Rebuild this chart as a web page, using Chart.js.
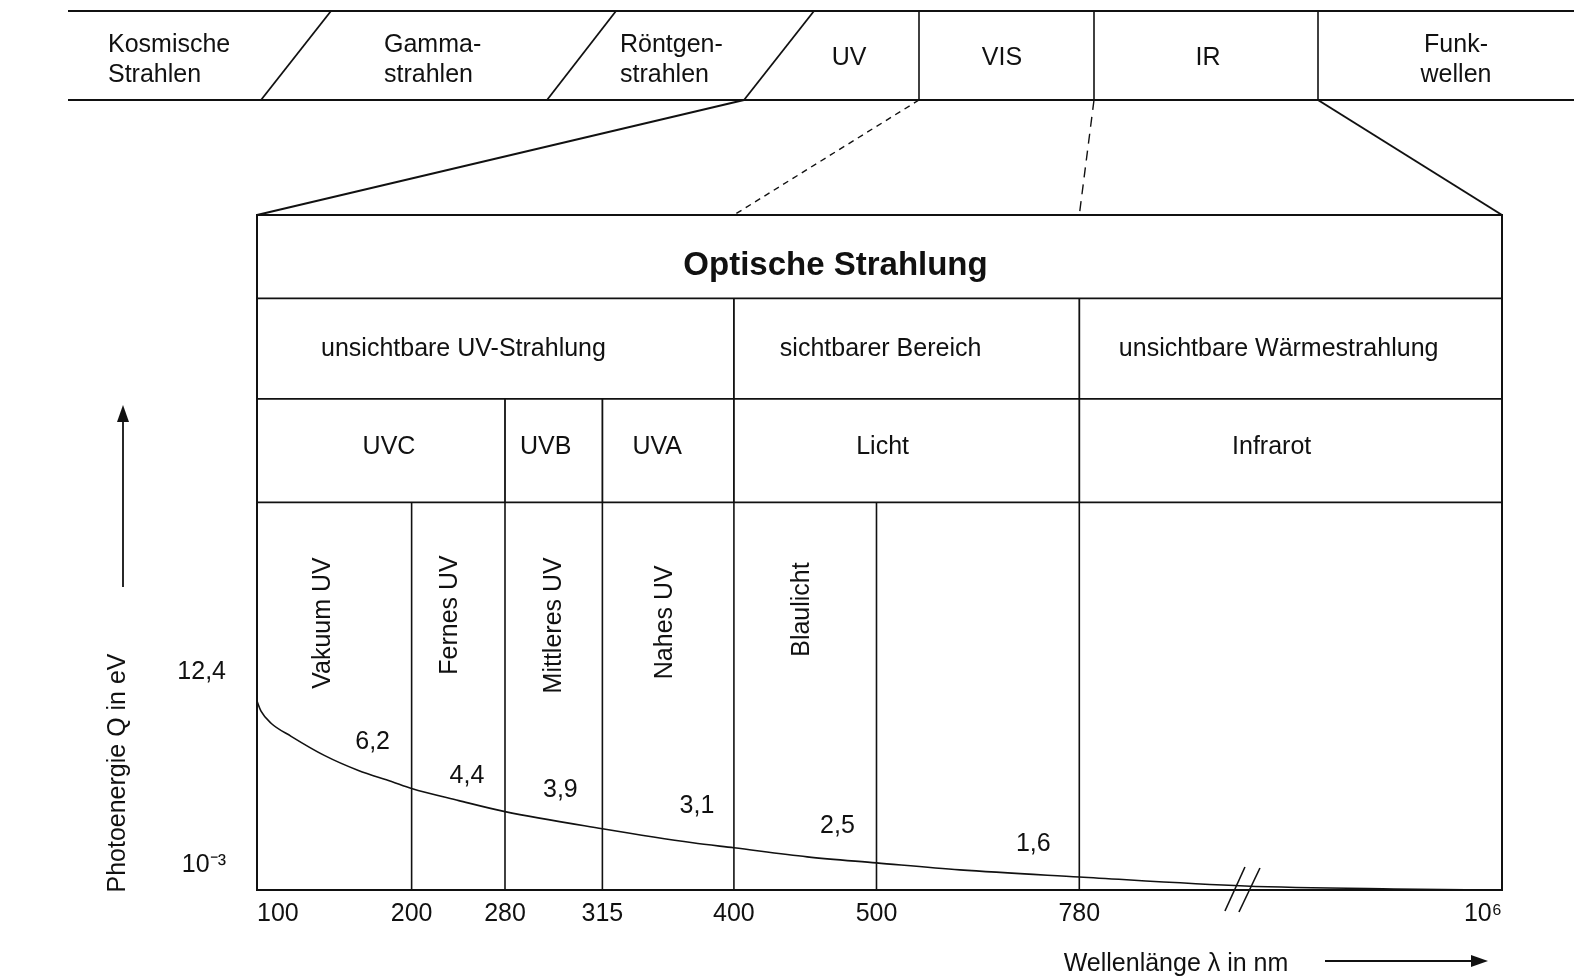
<!DOCTYPE html>
<html>
<head>
<meta charset="utf-8">
<script src="https://cdn.jsdelivr.net/npm/chart.js@4.4.1/dist/chart.umd.min.js"></script>
<style>
  html, body { margin: 0; padding: 0; background: #fff; }
  canvas { display: block; }
</style>
</head>
<body>
<canvas id="spectrum_chart"></canvas>
<script>
// schematic (non linear) wavelength axis, positions in axis units
const wavelengthLabels = ['100', '200', '280', '315', '400', '500', '780', '10⁶'];
const wavelengthPositions = [0, 154, 247, 344, 475, 617, 819, 1240];

// photon energy curve (axis units)
const curveX = [0, 4, 14, 34, 67, 101, 134, 154, 201, 247, 344, 434, 475, 548, 617, 700, 819, 984, 1132, 1240];
const curveY = [188, 178, 166, 153, 134, 119, 108, 101, 89, 78, 61, 47, 42, 33, 27, 20, 13, 4, 1, 0];

// energies written at the edges 200 ... 780 nm
const edgeEnergies = ['6,2', '4,4', '3,9', '3,1', '2,5', '1,6'];

const energyTickLabels = ['10⁻³', '12,4'];
const energyTickValues = [25, 217];

// boxes above the curve, bounds are indexes into wavelengthLabels
const rangeLabels = ['unsichtbare UV-Strahlung', 'sichtbarer Bereich', 'unsichtbare Wärmestrahlung'];
const rangeBounds = [[0, 4], [4, 6], [6, 7]];
const bandLabels = ['UVC', 'UVB', 'UVA', 'Licht', 'Infrarot'];
const bandBounds = [[0, 2], [2, 3], [3, 4], [4, 6], [6, 7]];
const subBandLabels = ['Vakuum UV', 'Fernes UV', 'Mittleres UV', 'Nahes UV', 'Blaulicht'];
const subBandBounds = [[0, 1], [1, 2], [2, 3], [3, 4], [4, 5]];

// electromagnetic spectrum strip at the top
const spectrumLabels = [
    ['Kosmische', 'Strahlen'], ['Gamma-', 'strahlen'], ['Röntgen-', 'strahlen'],
    ['UV'], ['VIS'], ['IR'], ['Funk-', 'wellen']
];

const FONT = '"Liberation Sans", Arial, sans-serif';
const INK = '#111';
const SIZE = 25;

function drawLine(ctx, x1, y1, x2, y2, width = 1.8, dash = []) {
    ctx.save();
    ctx.strokeStyle = INK;
    ctx.lineWidth = width;
    ctx.setLineDash(dash);
    ctx.beginPath();
    ctx.moveTo(x1, y1);
    ctx.lineTo(x2, y2);
    ctx.stroke();
    ctx.restore();
}

function drawText(ctx, text, x, y, size = SIZE, align = 'center', weight = '') {
    ctx.save();
    ctx.fillStyle = INK;
    ctx.font = `${weight} ${size}px ${FONT}`;
    ctx.textAlign = align;
    ctx.textBaseline = 'middle';
    ctx.fillText(text, x, y);
    ctx.restore();
}

function drawArrow(ctx, x1, y1, x2, y2) {
    const ang = Math.atan2(y2 - y1, x2 - x1);
    drawLine(ctx, x1, y1, x2 - 14 * Math.cos(ang), y2 - 14 * Math.sin(ang), 1.8);
    ctx.save();
    ctx.fillStyle = INK;
    ctx.translate(x2, y2);
    ctx.rotate(ang);
    ctx.beginPath();
    ctx.moveTo(0, 0);
    ctx.lineTo(-17, -6);
    ctx.lineTo(-17, 6);
    ctx.closePath();
    ctx.fill();
    ctx.restore();
}

// row edges of the table above the curve (y axis units)
const rowEdges = [386, 489, 589, 672];

// small hand tweaks so the labels sit where they sit in the original
const rangeShift = [-32, -26, -12];
const bandShift = [8, -8, -11, -24, -19];
const subShift = [[-11, 55], [-8, 53], [0, 55], [-3, 63], [-3, 60]];
const energyShift = [[-39, -48], [-38, -38], [-42, -41], [-37, -44], [-39, -39], [-46, -35]];

const diagramPlugin = {
    id: 'diagram',
    beforeDatasetsDraw(chart) {
        const { ctx, chartArea: a, scales: { x, y } } = chart;
        const px = i => x.getPixelForValue(wavelengthPositions[i]);
        const py = v => y.getPixelForValue(v);

        // frame and rows
        ctx.save();
        ctx.strokeStyle = INK;
        ctx.lineWidth = 2;
        ctx.strokeRect(a.left, a.top, a.right - a.left, a.bottom - a.top);
        ctx.restore();
        rowEdges.slice(0, 3).forEach(v => drawLine(ctx, a.left, py(v), a.right, py(v), 1.8));

        rangeBounds.slice(0, -1).forEach(b => drawLine(ctx, px(b[1]), py(rowEdges[2]), px(b[1]), py(rowEdges[1])));
        bandBounds.slice(0, -1).forEach(b => drawLine(ctx, px(b[1]), py(rowEdges[1]), px(b[1]), py(rowEdges[0])));
        for (let i = 1; i < wavelengthPositions.length - 1; i++) {
            drawLine(ctx, px(i), py(rowEdges[0]), px(i), a.bottom, 1.6);
        }

        // texts in the rows
        drawText(ctx, 'Optische Strahlung', (a.left + a.right) / 2 - 44, (py(rowEdges[3]) + py(rowEdges[2])) / 2 + 9, 33, 'center', 'bold');
        rangeLabels.forEach((t, i) => {
            const b = rangeBounds[i];
            drawText(ctx, t, (px(b[0]) + px(b[1])) / 2 + rangeShift[i], (py(rowEdges[2]) + py(rowEdges[1])) / 2 + 1);
        });
        bandLabels.forEach((t, i) => {
            const b = bandBounds[i];
            drawText(ctx, t, (px(b[0]) + px(b[1])) / 2 + bandShift[i], (py(rowEdges[1]) + py(rowEdges[0])) / 2 - 3);
        });
        subBandLabels.forEach((t, i) => {
            const b = subBandBounds[i];
            ctx.save();
            ctx.translate((px(b[0]) + px(b[1])) / 2 + subShift[i][0], py(rowEdges[0]) + subShift[i][1]);
            ctx.rotate(-Math.PI / 2);
            drawText(ctx, t, 0, 0, SIZE, 'right');
            ctx.restore();
        });
    },
    afterDraw(chart) {
        const { ctx, chartArea: a, scales: { x, y } } = chart;
        const px = i => x.getPixelForValue(wavelengthPositions[i]);

        // energies at the band edges
        edgeEnergies.forEach((t, i) => {
            const pos = wavelengthPositions[i + 1];
            const v = curveY[curveX.indexOf(pos)];
            drawText(ctx, t, x.getPixelForValue(pos) + energyShift[i][0], y.getPixelForValue(v) + energyShift[i][1] + 2);
        });

        // axis break
        const bx = x.getPixelForValue(981);
        drawLine(ctx, bx + 3, a.bottom - 23, bx - 17, a.bottom + 21, 1.6);
        drawLine(ctx, bx + 18, a.bottom - 22, bx - 3, a.bottom + 22, 1.6);

        // spectrum strip
        const top = 11, bottom = 100;
        drawLine(ctx, 68, top, chart.width, top, 2);
        drawLine(ctx, 68, bottom, chart.width, bottom, 2);
        [[331, 261], [616, 547], [814, 744]].forEach(s => drawLine(ctx, s[0], top, s[1], bottom, 1.8));
        [919, 1094, 1318].forEach(v => drawLine(ctx, v, top, v, bottom, 1.6));
        const slots = [[108, 'left'], [384, 'left'], [620, 'left'], [849, 'center'], [1002, 'center'], [1208, 'center'], [1456, 'center']];
        spectrumLabels.forEach((lines, i) => {
            const [lx, align] = slots[i];
            if (lines.length === 1) {
                drawText(ctx, lines[0], lx, 58, SIZE, align);
            } else {
                drawText(ctx, lines[0], lx, 45, SIZE, align);
                drawText(ctx, lines[1], lx, 75, SIZE, align);
            }
        });

        // zoom lines from the strip down to the optical box
        drawLine(ctx, 744, bottom, a.left, a.top, 2);
        drawLine(ctx, 919, bottom, px(4), a.top, 1.4, [6, 5]);
        drawLine(ctx, 1094, bottom, px(6), a.top, 1.4, [10, 7]);
        drawLine(ctx, 1318, bottom, a.right, a.top, 2);

        // axis titles with arrows
        ctx.save();
        ctx.translate(118, 773);
        ctx.rotate(-Math.PI / 2);
        drawText(ctx, 'Photoenergie Q in eV', 0, 0, SIZE);
        ctx.restore();
        drawArrow(ctx, 123, 587, 123, 405);
        drawText(ctx, 'Wellenlänge λ in nm', 1176, 964, SIZE);
        drawArrow(ctx, 1325, 961, 1488, 961);
    }
};

const chartElement = document.getElementById('spectrum_chart');
chartElement.width = 1574;
chartElement.height = 980;
chartElement.style.width = '1574px';
chartElement.style.height = '980px';

new Chart(chartElement, {
    type: 'line',
    data: {
        datasets: [{
            data: curveX.map((v, i) => ({ x: v, y: curveY[i] })),
            borderColor: INK,
            borderWidth: 1.6,
            pointRadius: 0,
            cubicInterpolationMode: 'monotone',
            fill: false
        }]
    },
    options: {
        responsive: false,
        animation: false,
        layout: { padding: { top: 215, right: 72, left: 0, bottom: 0 } },
        plugins: { legend: { display: false }, tooltip: { enabled: false } },
        scales: {
            x: {
                type: 'linear',
                min: 0,
                max: 1240,
                grid: { display: false, drawTicks: false },
                border: { display: false },
                afterBuildTicks: scale => { scale.ticks = wavelengthPositions.map(v => ({ value: v })); },
                afterFit: scale => { scale.height = 90; },
                ticks: {
                    autoSkip: false,
                    maxRotation: 0,
                    align: 'inner',
                    padding: 9,
                    color: INK,
                    font: { family: FONT, size: SIZE },
                    callback: v => wavelengthLabels[wavelengthPositions.indexOf(v)]
                }
            },
            y: {
                type: 'linear',
                min: 0,
                max: 672,
                grid: { display: false, drawTicks: false },
                border: { display: false },
                afterBuildTicks: scale => { scale.ticks = energyTickValues.map(v => ({ value: v })); },
                afterFit: scale => { scale.width = 257; },
                ticks: {
                    padding: 31,
                    color: INK,
                    font: { family: FONT, size: SIZE },
                    callback: v => energyTickLabels[energyTickValues.indexOf(v)]
                }
            }
        }
    },
    plugins: [diagramPlugin]
});
</script>
</body>
</html>
